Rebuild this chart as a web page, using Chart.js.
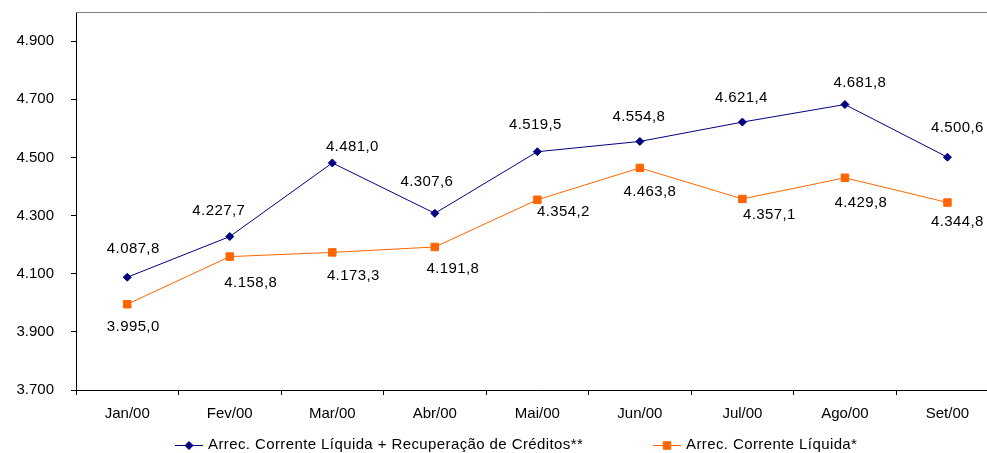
<!DOCTYPE html>
<html>
<head>
<meta charset="utf-8">
<script src="https://cdn.jsdelivr.net/npm/chart.js@4.4.1/dist/chart.umd.min.js"></script>
<style>
  html, body { margin: 0; padding: 0; background: #fff; overflow: hidden; }
  #box { width: 1005px; height: 453px; }
</style>
</head>
<body>
<div id="box"><canvas id="grafico"></canvas></div>
<script>
// dados
const meses = ['Jan/00', 'Fev/00', 'Mar/00', 'Abr/00', 'Mai/00', 'Jun/00', 'Jul/00', 'Ago/00', 'Set/00']
const arrecComRecuperacao = [4087.8, 4227.7, 4481.0, 4307.6, 4519.5, 4554.8, 4621.4, 4681.8, 4500.6]
const arrecLiquida = [3995.0, 4158.8, 4173.3, 4191.8, 4354.2, 4463.8, 4357.1, 4429.8, 4344.8]
const ticksY = [3700, 3900, 4100, 4300, 4500, 4700, 4900]

const nomeAzul = 'Arrec. Corrente Líquida + Recuperação de Créditos**'
const nomeLaranja = 'Arrec. Corrente Líquida*'

// deslocamento dos rótulos (como estão posicionados no original)
const dxAzul = [6, -11, 20, -8, -2, -1, -1, 15, 10]
const dyAzul = [-28, -26, -16, -31, -27, -25, -24, -22, -29]
const dxLaranja = [6, 21, 21, 18, 26, 10, 27, 16, 10]
const dyLaranja = [23, 26, 23, 22, 12, 24, 16, 25, 19]

const azul = '#000080'
const laranja = '#FF6600'
const fonte = "'Liberation Sans', Arial, sans-serif"

function milhar(n) {
  return String(n).replace(/\B(?=(\d{3})+(?!\d))/g, '.')
}
function formata(v) {
  let partes = v.toFixed(1).split('.')
  return milhar(partes[0]) + ',' + partes[1]
}

Chart.defaults.font.family = fonte
Chart.defaults.font.size = 15
Chart.defaults.color = '#000'

const rotulos = {
  id: 'rotulos',
  afterDatasetsDraw(chart) {
    const ctx = chart.ctx
    ctx.save()
    ctx.font = '15px ' + fonte
    ctx.letterSpacing = '0.4px'
    ctx.fillStyle = '#000'
    ctx.textAlign = 'center'
    ctx.textBaseline = 'middle'
    const desl = [[dxAzul, dyAzul], [dxLaranja, dyLaranja]]
    chart.data.datasets.forEach((ds, d) => {
      chart.getDatasetMeta(d).data.forEach((p, i) => {
        ctx.fillText(formata(ds.data[i]), p.x + desl[d][0][i], p.y + desl[d][1][i])
      })
    })
    ctx.restore()
  },
  afterDraw(chart) {
    const ctx = chart.ctx
    const a = chart.chartArea
    ctx.save()
    // borda superior cinza
    ctx.strokeStyle = '#808080'
    ctx.lineWidth = 1
    ctx.beginPath()
    ctx.moveTo(a.left, a.top + 0.5)
    ctx.lineTo(a.right, a.top + 0.5)
    ctx.stroke()

    // legenda
    ctx.font = '15px ' + fonte
    ctx.letterSpacing = '0.4px'
    ctx.textBaseline = 'middle'
    ctx.textAlign = 'left'
    const inicio = [175, 653]
    const y = 445
    chart.data.datasets.forEach((ds, d) => {
      let x = inicio[d]
      ctx.strokeStyle = ds.borderColor
      ctx.lineWidth = 1
      ctx.beginPath()
      ctx.moveTo(x, y + 0.5)
      ctx.lineTo(x + 28, y + 0.5)
      ctx.stroke()
      ctx.fillStyle = ds.pointBackgroundColor
      ctx.strokeStyle = ds.borderColor
      Chart.helpers.drawPoint(ctx, { pointStyle: ds.pointStyle, radius: ds.pointRadius, rotation: 0, borderWidth: 1 }, x + 14, y + 0.5)
      ctx.fillStyle = '#000'
      ctx.fillText(ds.label, x + 33, y)
    })
    ctx.restore()
  }
}

const ctx = document.getElementById('grafico')
new Chart(ctx, {
  type: 'line',
  data: {
    labels: meses,
    datasets: [{
      label: nomeAzul,
      data: arrecComRecuperacao,
      borderColor: azul,
      backgroundColor: azul,
      pointBackgroundColor: azul,
      pointBorderColor: azul,
      borderWidth: 1,
      pointStyle: 'rectRot',
      pointRadius: 4,
      pointBorderWidth: 1,
      tension: 0
    }, {
      label: nomeLaranja,
      data: arrecLiquida,
      borderColor: laranja,
      backgroundColor: laranja,
      pointBackgroundColor: laranja,
      pointBorderColor: laranja,
      borderWidth: 1,
      pointStyle: 'rect',
      pointRadius: 5.3,
      pointBorderWidth: 1,
      tension: 0
    }]
  },
  options: {
    responsive: true,
    maintainAspectRatio: false,
    devicePixelRatio: 1,
    animation: false,
    layout: { padding: { top: 12, right: 2, left: 0, bottom: 0 } },
    plugins: {
      legend: { display: false },
      tooltip: { enabled: false }
    },
    scales: {
      x: {
        offset: true,
        afterFit(s) { s.height = 63; s.paddingLeft = 0; s.paddingRight = 0 },
        grid: { offset: true, drawOnChartArea: false, tickLength: 5, color: '#000' },
        border: { color: '#000', width: 1 },
        ticks: { padding: 10, maxRotation: 0, autoSkip: false }
      },
      y: {
        min: 3700,
        max: 5000,
        afterFit(s) { s.width = 76; s.paddingTop = 0; s.paddingBottom = 0 },
        afterBuildTicks(s) { s.ticks = ticksY.map(v => ({ value: v })) },
        grid: { drawOnChartArea: false, tickLength: 5, color: '#000' },
        border: { color: '#000', width: 1 },
        ticks: { padding: 17, callback: v => milhar(v) }
      }
    }
  },
  plugins: [rotulos]
})
</script>
</body>
</html>
